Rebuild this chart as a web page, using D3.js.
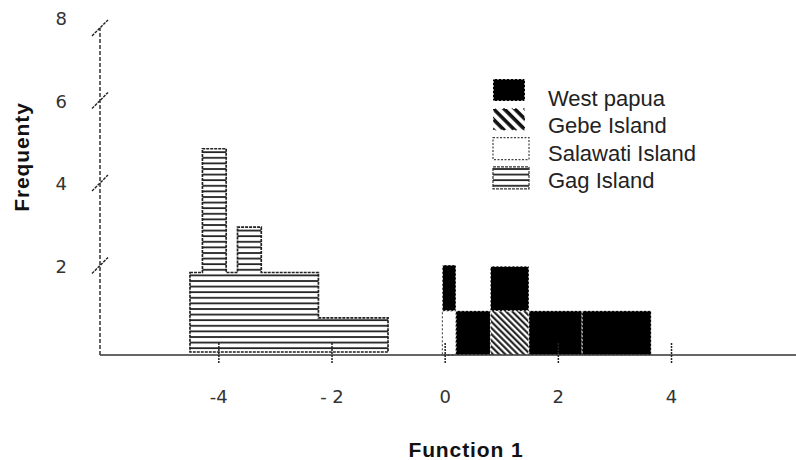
<!DOCTYPE html>
<html>
<head>
<meta charset="utf-8">
<script src="https://cdn.jsdelivr.net/npm/d3@7"></script>
<style>
  html, body { margin: 0; padding: 0; background: #fff; }
  svg { display: block; font-family: "Liberation Sans", Arial, sans-serif; }
</style>
</head>
<body>
<svg id="chart" width="796" height="460"></svg>
<script>
// ---------------- data ----------------
const xTickValues = [-4, -2, 0, 2, 4];
const xTickLabels = ["-4", "- 2", "0", "2", "4"];
const yTickValues = [2, 4, 6, 8];
const yTickLabels = ["2", "4", "6", "8"];

// Gag Island histogram (bin edges on Function 1, frequency per bin)
const gagEdges = [-4.51, -4.29, -3.87, -3.67, -3.25, -2.24, -1.01];
const gagFreq  = [2.0, 5.0, 2.0, 3.1, 2.0, 0.9];

// Right-hand groups share these bin edges
const rightEdges = [-0.05, 0.19, 0.80, 1.48, 2.42, 3.64];
const salawati   = [1.07, 0, 0, 0, 0];
const gebe       = [0, 0, 1.07, 0, 0];
const westPapua  = [1.11, 1.07, 1.08, 1.07, 1.07];

const legendLabels = ["West papua", "Gebe Island", "Salawati Island", "Gag Island"];
const xTitle = "Function 1";
const yTitle = "Frequenty";

// ---------------- chart ----------------
const svg = d3.select("#chart");
const x = d3.scaleLinear().domain([-6.1, 6.2]).range([100, 796]);
const y = d3.scaleLinear().domain([0, 8]).range([355, 25]);

const defs = svg.append("defs");
// horizontal hatch (Gag)
const ph = defs.append("pattern").attr("id", "hatchH")
  .attr("patternUnits", "userSpaceOnUse").attr("width", 8).attr("height", 5.6);
ph.append("rect").attr("width", 8).attr("height", 5.6).attr("fill", "#fff");
ph.append("line").attr("x1", 0).attr("x2", 8).attr("y1", 1).attr("y2", 1)
  .attr("stroke", "#222").attr("stroke-width", 1.8);
// diagonal hatch (Gebe), bars
const pd = defs.append("pattern").attr("id", "hatchD")
  .attr("patternUnits", "userSpaceOnUse").attr("width", 4.4).attr("height", 4.4)
  .attr("patternTransform", "rotate(-45)");
pd.append("rect").attr("width", 4.4).attr("height", 4.4).attr("fill", "#fff");
pd.append("line").attr("x1", 1.2).attr("x2", 1.2).attr("y1", 0).attr("y2", 4.4)
  .attr("stroke", "#111").attr("stroke-width", 2);
// diagonal hatch (Gebe), legend (coarser)
const pd2 = defs.append("pattern").attr("id", "hatchD2")
  .attr("patternUnits", "userSpaceOnUse").attr("width", 7.5).attr("height", 7.5)
  .attr("patternTransform", "rotate(-45)");
pd2.append("rect").attr("width", 7.5).attr("height", 7.5).attr("fill", "#fff");
pd2.append("line").attr("x1", 2).attr("x2", 2).attr("y1", 0).attr("y2", 7.5)
  .attr("stroke", "#111").attr("stroke-width", 3.6);

// ---- Gag Island: step-profile area ----
const gagPts = gagFreq.map((f, i) => ({ x: gagEdges[i], f }));
gagPts.push({ x: gagEdges[gagEdges.length - 1], f: gagFreq[gagFreq.length - 1] });
const gagArea = d3.area()
  .x(d => x(d.x)).y0(y(0) - 3).y1(d => y(d.f))
  .curve(d3.curveStepAfter);
svg.append("path").datum(gagPts)
  .attr("d", gagArea)
  .attr("fill", "url(#hatchH)")
  .attr("stroke", "#222").attr("stroke-width", 1.7)
  .attr("stroke-dasharray", "3,1");

// ---- right groups: stacked ----
const rows = rightEdges.slice(0, -1).map((e, i) => ({
  x0: e, x1: rightEdges[i + 1],
  "Salawati Island": salawati[i], "Gebe Island": gebe[i], "West papua": westPapua[i]
}));
const keys = ["Salawati Island", "Gebe Island", "West papua"];
const stack = d3.stack().keys(keys)(rows);
const style = {
  "Salawati Island": { fill: "#fff", stroke: "#333", dash: "2,2" },
  "Gebe Island": { fill: "url(#hatchD)", stroke: "#fff", dash: "2,2" },
  "West papua": { fill: "#000", stroke: "#fff", dash: "2,2" }
};
stack.forEach(layer => {
  const st = style[layer.key];
  svg.append("g").selectAll("rect")
    .data(layer.filter(d => d[1] - d[0] > 0))
    .join("rect")
    .attr("x", d => x(d.data.x0))
    .attr("width", d => x(d.data.x1) - x(d.data.x0))
    .attr("y", d => y(d[1]))
    .attr("height", d => y(d[0]) - y(d[1]))
    .attr("fill", st.fill)
    .attr("stroke", st.stroke).attr("stroke-width", 1)
    .attr("stroke-dasharray", st.dash);
});

// ---- axes ----
const axisTop = y(7.93);
svg.append("line")
  .attr("x1", x(-6.1)).attr("x2", x(-6.1)).attr("y1", y(0)).attr("y2", axisTop)
  .attr("stroke", "#333").attr("stroke-width", 1.5).attr("stroke-dasharray", "4,2");
svg.append("line")
  .attr("x1", x(-6.1)).attr("x2", x(6.2)).attr("y1", y(0)).attr("y2", y(0))
  .attr("stroke", "#333").attr("stroke-width", 1.6);

// x ticks
const xg = svg.append("g");
xg.selectAll("line").data(xTickValues).join("line")
  .attr("x1", d => x(d)).attr("x2", d => x(d))
  .attr("y1", y(0) - 12).attr("y2", y(0) + 9)
  .attr("stroke", "#222").attr("stroke-width", 1.5)
  .attr("stroke-dasharray", "2,1");
xg.selectAll("text").data(xTickValues).join("text")
  .attr("x", d => x(d)).attr("y", 403)
  .attr("text-anchor", "middle")
  .attr("font-family", "'DejaVu Sans', sans-serif")
  .attr("font-size", 18).attr("fill", "#333")
  .text((d, i) => xTickLabels[i]);

// y ticks: break marks and labels
const yg = svg.append("g");
yg.selectAll("line").data(yTickValues).join("line")
  .attr("x1", x(-6.1) - 8).attr("x2", x(-6.1) + 8)
  .attr("y1", d => Math.max(y(d) - 7, axisTop) + 8)
  .attr("y2", d => Math.max(y(d) - 7, axisTop) - 8)
  .attr("stroke", "#222").attr("stroke-width", 1.4)
  .attr("stroke-dasharray", "3,1");
yg.selectAll("text").data(yTickValues).join("text")
  .attr("x", 67).attr("y", d => y(d))
  .attr("text-anchor", "end")
  .attr("font-family", "'DejaVu Sans', sans-serif")
  .attr("font-size", 18).attr("fill", "#333")
  .text((d, i) => yTickLabels[i]);

// titles
svg.append("text")
  .attr("x", 466).attr("y", 457)
  .attr("text-anchor", "middle")
  .attr("font-size", 21).attr("font-weight", "bold").attr("letter-spacing", 0.9)
  .attr("fill", "#111")
  .text(xTitle);
svg.append("text")
  .attr("transform", "translate(29,157) rotate(-90)")
  .attr("text-anchor", "middle")
  .attr("font-size", 21).attr("font-weight", "bold").attr("letter-spacing", 0.9)
  .attr("fill", "#111")
  .text(yTitle);

// ---- legend ----
const legendStyle = [
  { fill: "#000", stroke: "#fff", dash: "2,2" },
  { fill: "url(#hatchD2)", stroke: "#fff", dash: "2,2" },
  { fill: "#fff", stroke: "#444", dash: "2,1.5" },
  { fill: "url(#hatchH)", stroke: "#333", dash: "3,1" }
];
const lg = svg.append("g");
const rowsL = lg.selectAll("g").data(legendLabels).join("g");
rowsL.append("rect")
  .attr("x", 493).attr("y", (d, i) => 79 + i * 29.3)
  .attr("width", (d, i) => i < 2 ? 32 : 36).attr("height", 22)
  .attr("fill", (d, i) => legendStyle[i].fill)
  .attr("stroke", (d, i) => legendStyle[i].stroke)
  .attr("stroke-width", 1.2)
  .attr("stroke-dasharray", (d, i) => legendStyle[i].dash);
rowsL.append("text")
  .attr("x", 548).attr("y", (d, i) => 106 + i * 27.4)
  .attr("font-size", 22).attr("fill", "#222")
  .text(d => d);
</script>
</body>
</html>
